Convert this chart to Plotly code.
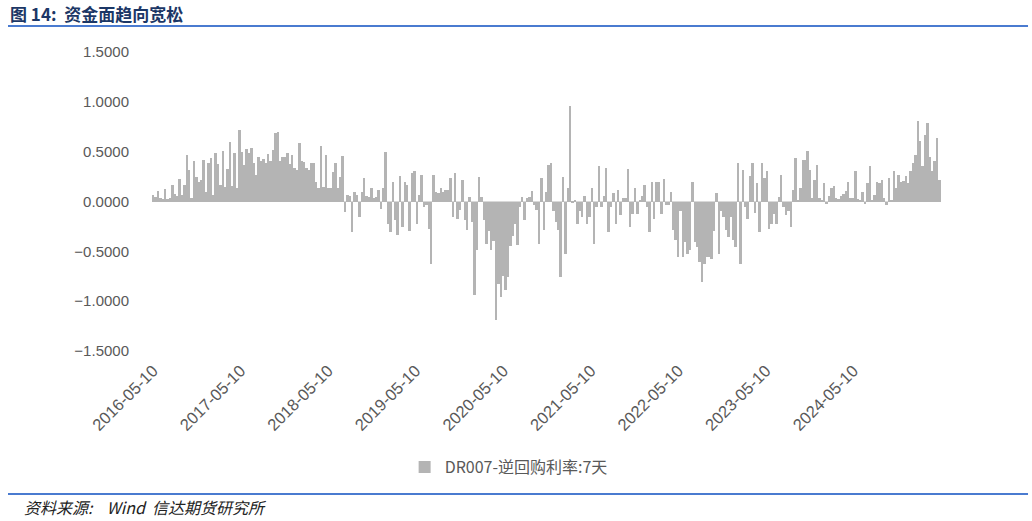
import pandas as pd
import plotly.graph_objects as go

# DR007 - 7-day reverse repo rate spread, sampled every 10 days from 2016-05-10
START_DATE = "2016-05-10"
STEP = "10D"

spread_2016_2018 = [
    0.07, 0.05, 0.11, 0.04, 0.03, 0.13, 0.03, 0.04, 0.17, 0.08,
    0.06, 0.23, 0.07, 0.17, 0.47, 0.32, 0.04, 0.41, 0.25, 0.20,
    0.22, 0.42, 0.10, 0.39, 0.44, 0.07, 0.49, 0.38, 0.17, 0.51,
    0.15, 0.33, 0.60, 0.16, 0.49, 0.14, 0.72, 0.50, 0.37, 0.53,
    0.49, 0.54, 0.39, 0.27, 0.45, 0.41, 0.43, 0.39, 0.48, 0.41,
    0.52, 0.69, 0.70, 0.41, 0.45, 0.45, 0.49, 0.38, 0.47, 0.34,
    0.32, 0.59, 0.41, 0.40, 0.34, 0.32, 0.39, 0.39, 0.20, 0.14,
    0.56, 0.15, 0.47, 0.14, 0.14, 0.30, 0.39, 0.14, 0.25, 0.46,
    -0.11, 0.07, 0.06, -0.31, 0.10, 0.07, -0.16,
]

spread_2018_2020 = [
    0.10, 0.24, 0.06, 0.05, 0.14, 0.04, 0.05, 0.12, -0.08, 0.14,
    0.50, -0.23, -0.31, 0.20, -0.19, -0.34, 0.26, -0.26, 0.20, 0.17,
    -0.30, 0.29, 0.31, -0.23, 0.07, 0.27, -0.06, -0.04, -0.28, -0.63,
    0.27, 0.10, 0.09, 0.14, 0.10, 0.12, 0.12, 0.24, -0.16, 0.29,
    -0.18, -0.09, 0.22, -0.19, -0.29, 0.05, -0.21, -0.94, -0.49, 0.25,
    0.05, -0.19, -0.43, -0.30, -0.49, -0.40, -1.19, -0.83, -0.96, -0.75,
    -0.89, -0.76, -0.45, -0.35, -0.23, -0.44, -0.06, 0.05, -0.19, 0.04,
    0.05, 0.11, -0.04, -0.09, -0.43, 0.24, -0.29, 0.10, 0.37, 0.39,
    -0.10, -0.21, -0.29,
]

spread_2020_2023 = [
    -0.76, 0.25, -0.53, 0.14, 0.96, -0.02, 0.02, -0.23, -0.10, -0.16,
    0.06, -0.23, -0.16, 0.14, -0.43, -0.06, 0.36, -0.06, 0.06, 0.34,
    -0.31, -0.06, 0.09, -0.23, 0.12, -0.14, 0.04, 0.04, 0.33, -0.26,
    -0.13, 0.14, -0.13, 0.01, 0.06, 0.17, -0.06, -0.31, 0.20, -0.18,
    0.20, 0.20, -0.13, 0.23, -0.04, -0.04, 0.10, -0.29, -0.39, -0.56,
    -0.10, -0.56, -0.41, -0.53, -0.49, 0.20, -0.41, -0.46, -0.61, -0.81,
    -0.63, -0.56, -0.56, -0.58, -0.30, 0.09, -0.53, -0.10, -0.16, -0.29,
    -0.36, -0.16, -0.39, -0.46, 0.39, -0.63, 0.32, -0.06, -0.18, 0.26,
    0.39, -0.12, 0.19,
]

spread_2023_2025 = [
    -0.31, 0.39, 0.24, 0.31, -0.28, -0.23, -0.13, -0.23, 0.05, 0.27,
    -0.06, -0.14, -0.10, -0.26, 0.12, 0.44, 0.02, 0.14, 0.42, 0.42,
    0.51, 0.32, 0.04, 0.22, 0.37, 0.04, 0.01, 0.19, -0.03, 0.06,
    0.14, 0.16, 0.04, 0.03, 0.06, 0.08, 0.11, 0.20, 0.04, 0.04,
    0.31, 0.03, 0.02, 0.10, -0.03, 0.19, 0.36, 0.01, 0.07, 0.20,
    0.19, 0.22, 0.04, -0.04, 0.24, 0.01, 0.31, 0.14, 0.27, 0.20,
    0.21, 0.26, 0.19, 0.31, 0.39, 0.47, 0.81, 0.61, 0.36, 0.67,
    0.79, 0.45, 0.31, 0.41, 0.64, 0.22,
]

tick_dates = ["2016-05-10", "2017-05-10", "2018-05-10", "2019-05-10", "2020-05-10",
              "2021-05-10", "2022-05-10", "2023-05-10", "2024-05-10"]
y_ticks = [1.5, 1.0, 0.5, 0.0, -0.5, -1.0, -1.5]

values = spread_2016_2018 + spread_2018_2020 + spread_2020_2023 + spread_2023_2025
dates = pd.date_range(START_DATE, periods=len(values), freq=STEP)

GREY_TEXT = "#595959"
BLUE_LINE = "#4a7bd0"
CJK = "Noto Sans CJK SC"

fig = go.Figure()
fig.add_trace(go.Bar(
    x=dates,
    y=values,
    name="DR007-逆回购利率:7天",
    marker=dict(color="#b4b4b4", line=dict(width=0)),
))

fig.update_layout(
    width=1032,
    height=521,
    plot_bgcolor="white",
    paper_bgcolor="white",
    bargap=0,
    margin=dict(l=152, r=91, t=52, b=170),
    font=dict(family="Liberation Sans, Arial", color=GREY_TEXT, size=15),
    showlegend=True,
    legend=dict(
        orientation="h",
        x=0.452, xanchor="center",
        y=-0.388, yanchor="middle",
        font=dict(family=CJK, size=16, color=GREY_TEXT),
    ),
    xaxis=dict(
        type="date",
        range=["2016-05-05", "2025-05-10"],
        tickvals=tick_dates,
        ticktext=tick_dates,
        tickangle=-45,
        showgrid=False,
        zeroline=False,
        showline=False,
        ticks="",
        ticklabelstandoff=6,
        tickfont=dict(size=16.5, color=GREY_TEXT),
    ),
    yaxis=dict(
        range=[-1.5, 1.5],
        tickvals=y_ticks,
        tickformat=".4f",
        showgrid=False,
        zeroline=True,
        zerolinecolor="#d9d9d9",
        zerolinewidth=1,
        showline=False,
        ticks="",
        ticklabelstandoff=22,
        tickfont=dict(size=15, color=GREY_TEXT),
    ),
)

# header and footer rules
fig.add_shape(type="line", xref="paper", yref="paper",
              x0=-0.1825, x1=1.1103, y0=1.087, y1=1.087,
              line=dict(color=BLUE_LINE, width=2))
fig.add_shape(type="line", xref="paper", yref="paper",
              x0=-0.1825, x1=1.1103, y0=-0.478, y1=-0.478,
              line=dict(color=BLUE_LINE, width=2))

fig.add_annotation(
    text="<b>图 14:  资金面趋向宽松</b>",
    xref="paper", yref="paper", x=-0.1825, y=1.13,
    xanchor="left", yanchor="middle", showarrow=False,
    font=dict(family=CJK, size=17, color="#1c3766"),
)
fig.add_annotation(
    text="<i>资料来源:    Wind  信达期货研究所</i>",
    xref="paper", yref="paper", x=-0.1648, y=-0.522,
    xanchor="left", yanchor="middle", showarrow=False,
    font=dict(family=CJK, size=16, color="#222222"),
)

# the page body has a default 8px margin; remove it so the figure sits at (0, 0)
fig.write_html("out.html", config={"displayModeBar": False},
               post_script="document.body.style.margin='0';")
